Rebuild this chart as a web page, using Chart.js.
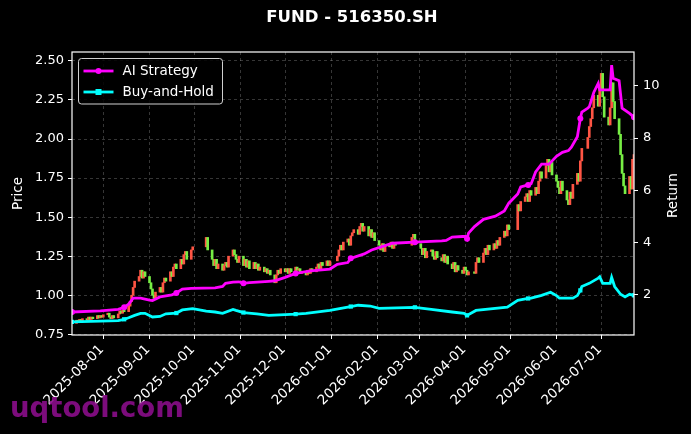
<!DOCTYPE html>
<html>
<head>
<meta charset="utf-8">
<script src="https://cdn.jsdelivr.net/npm/chart.js@4.4.1/dist/chart.umd.min.js"></script>
<style>
  html, body { margin: 0; padding: 0; background: #000; }
  #wrap { width: 691px; height: 434px; position: relative; }
</style>
</head>
<body>
<div id="wrap"><canvas id="chart"></canvas></div>
<script>
// ---- data ----
var startDate = '2025-07-11';
var endDate = '2026-07-23';
var holidays = ['2025-10-01', '2025-10-02', '2025-10-03', '2025-10-06', '2025-10-07', '2025-10-08',
  '2026-01-01', '2026-01-02', '2026-02-16', '2026-02-17', '2026-02-18', '2026-02-19', '2026-02-20',
  '2026-02-23', '2026-04-06', '2026-05-01', '2026-05-04', '2026-05-05', '2026-06-19'];

var firstOpen = 0.83;
var closes = [
  // 2025-07
  0.82, 0.84, 0.83, 0.845, 0.835, 0.85, 0.84, 0.86, 0.845, 0.86, 0.85, 0.87, 0.855, 0.87, 0.86,
  // 2025-08
  0.875, 0.885, 0.86, 0.85, 0.87, 0.855, 0.88, 0.90, 0.885, 0.905, 0.895, 0.93, 0.96, 1.00, 1.05, 1.09,
  1.12, 1.16, 1.11, 1.15, 1.12,
  // 2025-09
  1.08, 1.04, 1.00, 0.98, 1.02, 1.05, 1.02, 1.08, 1.11, 1.09, 1.15, 1.12, 1.18, 1.20, 1.17, 1.23,
  1.20, 1.26, 1.28, 1.23, 1.29, 1.31,
  // 2025-10
  1.37, 1.29, 1.23, 1.19, 1.23, 1.17, 1.20, 1.16, 1.19, 1.21, 1.18, 1.25, 1.29, 1.26, 1.23, 1.21, 1.25,
  // 2025-11
  1.19, 1.23, 1.18, 1.22, 1.17, 1.21, 1.17, 1.20, 1.16, 1.18, 1.15, 1.17, 1.14, 1.16, 1.13, 1.08,
  1.13, 1.16, 1.14, 1.17,
  // 2025-12
  1.15, 1.17, 1.14, 1.17, 1.15, 1.18, 1.16, 1.17, 1.14, 1.15, 1.13, 1.16, 1.14, 1.17, 1.15, 1.18,
  1.20, 1.17, 1.21, 1.19, 1.22, 1.19, 1.22,
  // 2026-01
  1.25, 1.29, 1.32, 1.29, 1.34, 1.36, 1.32, 1.38, 1.40, 1.42, 1.39, 1.44, 1.46, 1.41, 1.44, 1.38,
  1.42, 1.37, 1.40, 1.35,
  // 2026-02
  1.32, 1.29, 1.33, 1.28, 1.32, 1.31, 1.34, 1.30, 1.33, 1.32, 1.37, 1.39, 1.34, 1.33,
  // 2026-03
  1.30, 1.26, 1.30, 1.24, 1.28, 1.29, 1.25, 1.23, 1.28, 1.24, 1.22, 1.26, 1.21, 1.25, 1.20, 1.17,
  1.21, 1.15, 1.19, 1.16, 1.14, 1.18,
  // 2026-04
  1.16, 1.13, 1.15, 1.14, 1.21, 1.24, 1.21, 1.27, 1.30, 1.26, 1.32, 1.29, 1.33, 1.30, 1.35, 1.32,
  1.37, 1.41, 1.38, 1.45, 1.42,
  // 2026-05
  1.58, 1.54, 1.60, 1.63, 1.65, 1.60, 1.67, 1.64, 1.69, 1.65, 1.73, 1.79, 1.75, 1.83, 1.87, 1.79, 1.85, 1.77,
  // 2026-06
  1.73, 1.69, 1.65, 1.73, 1.67, 1.61, 1.58, 1.66, 1.62, 1.71, 1.78, 1.73, 1.86, 1.94, 2.01, 2.08,
  2.13, 2.20, 2.28, 2.21, 2.32,
  // 2026-07
  2.42, 2.27, 2.14, 2.09, 2.20, 2.36, 2.24, 2.13, 2.03, 1.90, 1.78, 1.70, 1.65, 1.76, 1.68, 1.87, 1.90
];

var aiDates = ['2025-07-11', '2025-07-30', '2025-08-11', '2025-08-15', '2025-08-18', '2025-08-21',
  '2025-08-26', '2025-09-01', '2025-09-03', '2025-09-08', '2025-09-16', '2025-09-19', '2025-09-23',
  '2025-09-29', '2025-10-15', '2025-10-20', '2025-10-22', '2025-10-27', '2025-10-31', '2025-11-03',
  '2025-11-07', '2025-11-20', '2025-11-24', '2025-12-01', '2025-12-08', '2025-12-18', '2025-12-31',
  '2026-01-05', '2026-01-12', '2026-01-14', '2026-01-23', '2026-01-28', '2026-02-05', '2026-02-11',
  '2026-02-26', '2026-03-16', '2026-03-19', '2026-03-23', '2026-03-30', '2026-04-01', '2026-04-02',
  '2026-04-03', '2026-04-07', '2026-04-13', '2026-04-21', '2026-04-27', '2026-04-30', '2026-05-06',
  '2026-05-08', '2026-05-13', '2026-05-15', '2026-05-18', '2026-05-22', '2026-05-27', '2026-06-01',
  '2026-06-05', '2026-06-09', '2026-06-11', '2026-06-15', '2026-06-17', '2026-06-18', '2026-06-22',
  '2026-06-23', '2026-06-26', '2026-06-29', '2026-06-30', '2026-07-02', '2026-07-07', '2026-07-08',
  '2026-07-09', '2026-07-13', '2026-07-15', '2026-07-20', '2026-07-23'];
var aiReturn = [1.32, 1.36, 1.42, 1.50, 1.62, 1.85,
  1.85, 1.78, 1.76, 1.90, 1.98, 2.05, 2.20,
  2.23, 2.25, 2.30, 2.42, 2.47, 2.48, 2.42,
  2.45, 2.50, 2.52, 2.65, 2.80, 2.90, 2.97,
  3.15, 3.22, 3.38, 3.55, 3.70, 3.85, 3.96,
  4.00, 4.05, 4.07, 4.20, 4.22, 4.22, 4.13,
  4.35, 4.60, 4.88, 5.00, 5.20, 5.50, 5.85,
  6.12, 6.20, 6.25, 6.70, 7.00, 7.00, 7.30,
  7.45, 7.52, 7.65, 8.05, 8.75, 9.00, 9.15,
  9.20, 9.75, 10.1, 9.85, 9.85, 9.85, 10.8,
  10.3, 10.2, 9.15, 8.95, 8.8];

var bhDates = ['2025-07-11', '2025-07-30', '2025-08-11', '2025-08-15', '2025-08-18', '2025-08-22',
  '2025-08-26', '2025-08-29', '2025-09-03', '2025-09-08', '2025-09-12', '2025-09-19', '2025-09-23',
  '2025-09-30', '2025-10-09', '2025-10-15', '2025-10-20', '2025-10-27', '2025-10-29', '2025-11-03',
  '2025-11-12', '2025-11-20', '2025-12-01', '2025-12-08', '2025-12-15', '2025-12-31', '2026-01-12',
  '2026-01-14', '2026-01-19', '2026-01-27', '2026-02-02', '2026-02-26', '2026-03-09', '2026-03-23',
  '2026-03-31', '2026-04-02', '2026-04-08', '2026-04-29', '2026-05-06', '2026-05-13', '2026-05-15',
  '2026-05-22', '2026-05-28', '2026-06-01', '2026-06-03', '2026-06-12', '2026-06-15', '2026-06-17',
  '2026-06-18', '2026-06-23', '2026-06-29', '2026-06-30', '2026-07-02', '2026-07-07', '2026-07-08',
  '2026-07-10', '2026-07-14', '2026-07-17', '2026-07-20', '2026-07-23'];
var bhReturn = [0.94, 0.97, 0.99, 1.04, 1.10, 1.19,
  1.27, 1.27, 1.13, 1.15, 1.25, 1.28, 1.40,
  1.45, 1.35, 1.32, 1.27, 1.42, 1.38, 1.30,
  1.25, 1.19, 1.22, 1.24, 1.27, 1.38, 1.51,
  1.53, 1.58, 1.55, 1.46, 1.50, 1.42, 1.32,
  1.27, 1.19, 1.38, 1.51, 1.77, 1.84, 1.85,
  1.96, 2.08, 1.95, 1.85, 1.85, 1.95, 2.15,
  2.30, 2.42, 2.62, 2.67, 2.42, 2.42, 2.65,
  2.30, 2.00, 1.90, 2.00, 1.96];

var monthTicks = ['2025-08-01', '2025-09-01', '2025-10-01', '2025-11-01', '2025-12-01', '2026-01-01',
  '2026-02-01', '2026-03-01', '2026-04-01', '2026-05-01', '2026-06-01', '2026-07-01'];
var priceTicks = [0.75, 1.00, 1.25, 1.50, 1.75, 2.00, 2.25, 2.50];
var returnTicks = [2, 4, 6, 8, 10];

// ---- helpers ----
var DAY = 86400000;
var origin = Date.UTC(2025, 6, 1);
function dayNum(s) {
  var p = s.split('-');
  return (Date.UTC(+p[0], p[1] - 1, +p[2]) - origin) / DAY;
}

// trading calendar (weekdays minus exchange holidays)
var tradeDays = [];
for (var d = dayNum(startDate); d <= dayNum(endDate); d++) {
  var dt = new Date(origin + d * DAY);
  var wd = dt.getUTCDay();
  if (wd === 0 || wd === 6) continue;
  if (holidays.indexOf(dt.toISOString().slice(0, 10)) >= 0) continue;
  tradeDays.push(d);
}

var UP = '#ff5544', DOWN = '#77ee44';
var bodies = [], bodyColors = [];
var n = Math.min(tradeDays.length, closes.length);
for (var i = 0; i < n; i++) {
  var o = i ? closes[i - 1] : firstOpen;
  var c = closes[i];
  bodies.push({ x: tradeDays[i], y: [o, c] });
  bodyColors.push(c >= o ? UP : DOWN);
}

// a marker every 25 trading days
var markerDays = {};
for (i = 0; i < tradeDays.length; i += 25) markerDays[tradeDays[i]] = true;
if (tradeDays.length) markerDays[tradeDays[tradeDays.length - 1]] = true;

function toPoints(dates, vals) {
  return dates.map(function (s, k) { return { x: dayNum(s), y: vals[k] }; });
}
function markerRadius(ctx) {
  return ctx.raw && markerDays[ctx.raw.x] ? 3 : 0;
}

var FONT = 'DejaVu Sans';
var tickFont = { family: FONT, size: 13 };
var gridColor = 'rgba(150,150,150,0.45)';

var chrome = {
  id: 'chrome',
  beforeDraw: function (chart) {
    var ctx = chart.ctx;
    ctx.save();
    ctx.fillStyle = '#000';
    ctx.fillRect(0, 0, chart.width, chart.height);
    ctx.restore();
  },
  afterDraw: function (chart) {
    var ctx = chart.ctx, a = chart.chartArea, xs = chart.scales.x;
    ctx.save();
    // frame
    ctx.strokeStyle = '#fff';
    ctx.lineWidth = 1.2;
    ctx.strokeRect(a.left, a.top, a.right - a.left, a.bottom - a.top);

    // rotated date labels, right end at the tick like matplotlib
    ctx.fillStyle = '#fff';
    ctx.font = '13.5px "' + FONT + '"';
    ctx.textAlign = 'right';
    ctx.textBaseline = 'alphabetic';
    monthTicks.forEach(function (m) {
      var px = xs.getPixelForValue(dayNum(m));
      ctx.save();
      ctx.translate(px + 1, a.bottom + 15);
      ctx.rotate(-Math.PI / 4);
      ctx.fillText(m, 0, 0);
      ctx.restore();
    });

    // title
    ctx.font = 'bold 16.5px "' + FONT + '"';
    ctx.textAlign = 'center';
    ctx.textBaseline = 'middle';
    ctx.fillText('FUND - 516350.SH', (a.left + a.right) / 2 - 1, 18);

    // axis titles
    ctx.font = '13.5px "' + FONT + '"';
    ctx.save();
    ctx.translate(18, (a.top + a.bottom) / 2);
    ctx.rotate(-Math.PI / 2);
    ctx.fillText('Price', 0, 0);
    ctx.restore();
    ctx.save();
    ctx.translate(673, (a.top + a.bottom) / 2 + 2);
    ctx.rotate(-Math.PI / 2);
    ctx.fillText('Return', 0, 0);
    ctx.restore();

    // legend
    var lx = a.left + 6.5, ly = a.top + 6.5, lw = 144, lh = 45.5;
    ctx.beginPath();
    ctx.roundRect(lx, ly, lw, lh, 3);
    ctx.fillStyle = 'rgba(0,0,0,0.85)';
    ctx.fill();
    ctx.strokeStyle = '#d0d0d0';
    ctx.lineWidth = 1;
    ctx.stroke();
    var sets = chart.data.datasets.slice(0, 2);
    sets.forEach(function (ds, k) {
      var cy = ly + 12.5 + k * 21;
      ctx.strokeStyle = ds.borderColor;
      ctx.lineWidth = 2.8;
      ctx.beginPath();
      ctx.moveTo(lx + 5, cy);
      ctx.lineTo(lx + 35, cy);
      ctx.stroke();
      ctx.fillStyle = ds.borderColor;
      ctx.beginPath();
      if (ds.pointStyle === 'rect') ctx.rect(lx + 17, cy - 3, 6, 6);
      else ctx.arc(lx + 20, cy, 3, 0, Math.PI * 2);
      ctx.fill();
      ctx.fillStyle = '#fff';
      ctx.font = '13.5px "' + FONT + '"';
      ctx.textAlign = 'left';
      ctx.textBaseline = 'middle';
      ctx.fillText(ds.label, lx + 44, cy + 0.5);
    });

    // watermark
    ctx.globalAlpha = 0.9;
    ctx.fillStyle = '#8a0d8a';
    ctx.font = 'bold 27.5px "' + FONT + '"';
    ctx.textAlign = 'left';
    ctx.textBaseline = 'alphabetic';
    ctx.fillText('uqtool.com', 10, 417);
    ctx.restore();
  }
};

new Chart(document.getElementById('chart'), {
  type: 'bar',
  data: {
    datasets: [{
      type: 'line',
      label: 'AI Strategy',
      data: toPoints(aiDates, aiReturn),
      yAxisID: 'y2',
      borderColor: '#ff00ff',
      backgroundColor: '#ff00ff',
      borderWidth: 2.8,
      pointStyle: 'circle',
      pointRadius: markerRadius,
      pointBorderWidth: 0,
      tension: 0,
      fill: false
    }, {
      type: 'line',
      label: 'Buy-and-Hold',
      data: toPoints(bhDates, bhReturn),
      yAxisID: 'y2',
      borderColor: '#00ffff',
      backgroundColor: '#00ffff',
      borderWidth: 2.8,
      pointStyle: 'rect',
      pointRadius: markerRadius,
      pointBorderWidth: 0,
      tension: 0,
      fill: false
    }, {
      type: 'bar',
      label: 'Price',
      data: bodies,
      yAxisID: 'y',
      backgroundColor: bodyColors,
      borderWidth: 0,
      barThickness: 2,
      minBarLength: 1
    }]
  },
  options: {
    responsive: true,
    maintainAspectRatio: false,
    animation: false,
    events: [],
    layout: { padding: { top: 52, left: 0, right: 0, bottom: 0 } },
    plugins: { legend: { display: false }, title: { display: false }, tooltip: { enabled: false } },
    scales: {
      x: {
        type: 'linear',
        min: dayNum(startDate),
        max: dayNum(endDate),
        offset: false,
        afterBuildTicks: function (s) {
          s.ticks = monthTicks.map(function (m) { return { value: dayNum(m) }; });
        },
        afterFit: function (s) { s.height = 99; },
        ticks: { display: false },
        grid: { color: gridColor, lineWidth: 0.8, offset: false, tickColor: '#fff', tickLength: 4, tickWidth: 1 },
        border: { display: false, dash: [3, 3] }
      },
      y: {
        type: 'linear',
        position: 'left',
        min: 0.7455,
        max: 2.557,
        afterBuildTicks: function (s) {
          s.ticks = priceTicks.map(function (v) { return { value: v }; });
        },
        afterFit: function (s) { s.width = 72; },
        ticks: {
          color: '#fff',
          font: tickFont,
          padding: 4,
          callback: function (v) { return v.toFixed(2); }
        },
        grid: { color: gridColor, lineWidth: 0.8, tickColor: '#fff', tickLength: 4, tickWidth: 1 },
        border: { display: false, dash: [3, 3] }
      },
      y2: {
        type: 'linear',
        position: 'right',
        min: 0.437,
        max: 11.305,
        afterBuildTicks: function (s) {
          s.ticks = returnTicks.map(function (v) { return { value: v }; });
        },
        afterFit: function (s) { s.width = 57; },
        ticks: {
          color: '#fff',
          font: tickFont,
          padding: 5,
          callback: function (v) { return String(v); }
        },
        grid: { drawOnChartArea: false, tickColor: '#fff', tickLength: 4, tickWidth: 1 },
        border: { display: false }
      }
    }
  },
  plugins: [chrome]
});
</script>
</body>
</html>
